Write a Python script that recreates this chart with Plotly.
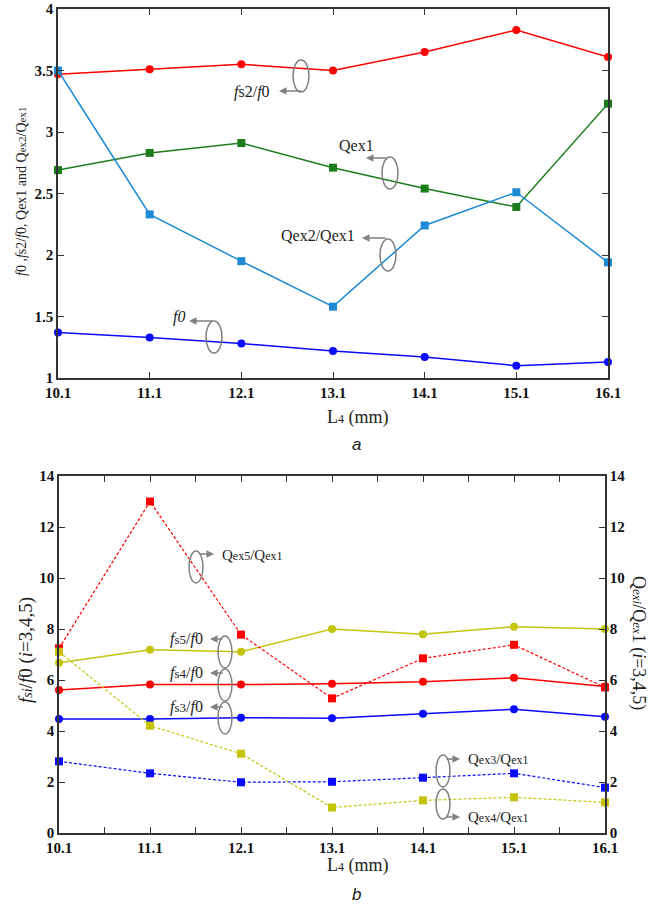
import plotly.graph_objects as go

# ---- data ----
L4 = [10.1, 11.1, 12.1, 13.1, 14.1, 15.1, 16.1]

# panel a
fs2_f0 = [3.47, 3.51, 3.55, 3.50, 3.65, 3.83, 3.61]
qex1 = [2.69, 2.83, 2.91, 2.71, 2.54, 2.39, 3.23]
qex2_qex1 = [3.50, 2.33, 1.95, 1.58, 2.24, 2.51, 1.94]
f0 = [1.37, 1.33, 1.28, 1.22, 1.17, 1.10, 1.13]

# panel b (left axis)
fs3_f0 = [4.47, 4.47, 4.52, 4.50, 4.68, 4.85, 4.56]
fs4_f0 = [5.61, 5.82, 5.82, 5.85, 5.93, 6.09, 5.75]
fs5_f0 = [6.68, 7.19, 7.11, 8.00, 7.79, 8.09, 8.00]
# panel b (right axis)
qex3_qex1 = [2.81, 2.34, 1.99, 2.01, 2.17, 2.34, 1.78]
qex4_qex1 = [7.11, 4.21, 3.11, 1.00, 1.28, 1.40, 1.20]
qex5_qex1 = [7.24, 13.0, 7.78, 5.28, 6.85, 7.38, 5.71]

x_ticks = L4
x_tick_text = ["10.1", "11.1", "12.1", "13.1", "14.1", "15.1", "16.1"]

W, H = 664, 906
RED = "#ff0000"
GREEN = "#1c7c1c"
LBLUE = "#1c8ad4"
BLUE = "#0a0aff"
YEL = "#c4c40c"
GRAY = "#808080"
AX = "#333333"
SERIF = "Liberation Serif, Times New Roman, serif"


def px(x):
    return x / W


def py(y):
    return 1 - y / H


def sm(t, size=10):
    return f"<span style='font-size:{size}px'>{t}</span>"


fig = go.Figure()

# panel a traces
fig.add_trace(go.Scatter(x=L4, y=fs2_f0, mode="lines+markers", line=dict(color=RED, width=1.5),
                         marker=dict(symbol="circle", size=8, color=RED), cliponaxis=False,
                         xaxis="x", yaxis="y"))
fig.add_trace(go.Scatter(x=L4, y=qex1, mode="lines+markers", line=dict(color=GREEN, width=1.5),
                         marker=dict(symbol="square", size=8, color=GREEN), cliponaxis=False,
                         xaxis="x", yaxis="y"))
fig.add_trace(go.Scatter(x=L4, y=qex2_qex1, mode="lines+markers", line=dict(color=LBLUE, width=1.5),
                         marker=dict(symbol="square", size=8, color=LBLUE), cliponaxis=False,
                         xaxis="x", yaxis="y"))
fig.add_trace(go.Scatter(x=L4, y=f0, mode="lines+markers", line=dict(color=BLUE, width=1.5),
                         marker=dict(symbol="circle", size=8, color=BLUE), cliponaxis=False,
                         xaxis="x", yaxis="y"))

# panel b traces, solid lines on left axis
for ys, c in [(fs5_f0, YEL), (fs4_f0, RED), (fs3_f0, BLUE)]:
    fig.add_trace(go.Scatter(x=L4, y=ys, mode="lines+markers", line=dict(color=c, width=1.5),
                             marker=dict(symbol="circle", size=8, color=c), cliponaxis=False,
                             xaxis="x2", yaxis="y2"))
# dashed lines on right axis
for ys, c in [(qex5_qex1, RED), (qex4_qex1, YEL), (qex3_qex1, BLUE)]:
    fig.add_trace(go.Scatter(x=L4, y=ys, mode="lines+markers", line=dict(color=c, width=1.2, dash="3px,2px"),
                             marker=dict(symbol="square", size=8, color=c), cliponaxis=False,
                             xaxis="x2", yaxis="y3"))

tickfont = dict(family=SERIF, size=15, color="#111111", weight="bold")
common_x = dict(range=[10.1, 16.1], tickvals=x_ticks, ticktext=x_tick_text, ticks="inside",
                ticklen=6, tickcolor=AX, showline=True, linecolor=AX, linewidth=1.5,
                showgrid=False, zeroline=False, tickfont=tickfont, automargin=False)
common_y = dict(ticks="inside", ticklen=6, tickcolor=AX, showline=True, linecolor=AX, linewidth=1.5,
                showgrid=False, zeroline=False, tickfont=tickfont, automargin=False)

fig.update_layout(
    width=W, height=H,
    margin=dict(l=0, r=0, t=0, b=0, autoexpand=False),
    paper_bgcolor="white", plot_bgcolor="white",
    showlegend=False,
    xaxis=dict(domain=[px(58), px(608)], anchor="y", mirror="ticks", **common_x),
    yaxis=dict(domain=[py(378), py(9)], anchor="x", range=[1, 4], mirror="ticks",
               tickvals=[1, 1.5, 2, 2.5, 3, 3.5, 4], ticktext=["1", "1.5", "2", "2.5", "3", "3.5", "4"],
               **common_y),
    xaxis2=dict(domain=[px(59), px(605)], anchor="y2", mirror="ticks",
                minor=dict(tickvals=[10.6, 11.6, 12.6, 13.6, 14.6, 15.6], ticks="inside", ticklen=6,
                           tickcolor=AX),
                **common_x),
    yaxis2=dict(domain=[py(833), py(476)], anchor="x2", range=[0, 14], dtick=2, **common_y),
    yaxis3=dict(overlaying="y2", anchor="x2", side="right", range=[0, 14], dtick=2, **common_y),
)

ann = []
shapes = []


def text(x, y, t, size=16, xanchor="center", **kw):
    ann.append(dict(x=px(x), y=py(y), xref="paper", yref="paper", text=t, showarrow=False,
                    xanchor=xanchor, yanchor="middle",
                    font=dict(family=SERIF, size=size, color="#222222"), **kw))


def arrow(x0, y0, x1, y1):
    # arrow from (x0, y0) pointing to (x1, y1), pixel coordinates
    ann.append(dict(x=px(x1), y=py(y1), xref="paper", yref="paper", text="", showarrow=True,
                    ax=x0 - x1, ay=y0 - y1, arrowhead=2, arrowsize=1, arrowwidth=1.5,
                    arrowcolor=GRAY))


def ellipse(cx, cy, rx=8, ry=16):
    shapes.append(dict(type="circle", xref="paper", yref="paper",
                       x0=px(cx - rx), x1=px(cx + rx), y0=py(cy + ry), y1=py(cy - ry),
                       line=dict(color=GRAY, width=1.5)))


# panel a callouts
ellipse(301, 76)
arrow(303, 91, 279, 91)
text(252, 92, "<i>f</i>s2/<i>f</i>0")

ellipse(390, 173)
arrow(388, 158, 366, 158)
text(356, 146, "Qex1")

ellipse(388, 255)
arrow(387, 238, 362, 238)
text(318, 235, "Qex2/Qex1")

ellipse(214, 337)
arrow(214, 321, 189, 321)
text(179, 317, "<i>f0</i>")

# panel b callouts
ellipse(196, 567, 7, 16)
arrow(198, 554, 214, 554)
text(220, 555, "Q" + sm("ex5", 12) + "/Q" + sm("ex1", 12), size=15, xanchor="left")

ellipse(225, 652, 7, 16)
arrow(224, 639, 210, 639)
text(186, 639, "<i>f</i>" + sm("s5", 13) + "/<i>f</i>0")

ellipse(225, 685, 7, 16)
arrow(224, 673, 210, 673)
text(186, 673, "<i>f</i>" + sm("s4", 13) + "/<i>f</i>0")

ellipse(225, 718, 7, 16)
arrow(224, 707, 210, 707)
text(186, 707, "<i>f</i>" + sm("s3", 13) + "/<i>f</i>0")

ellipse(443, 771, 7, 16)
arrow(445, 759, 460, 759)
text(466, 759, "Q" + sm("ex3", 12) + "/Q" + sm("ex1", 12), size=15, xanchor="left")

ellipse(443, 804, 7, 15)
arrow(445, 817, 460, 817)
text(466, 817, "Q" + sm("ex4", 12) + "/Q" + sm("ex1", 12), size=15, xanchor="left")

# axis titles
text(22, 192, "<i>f</i>0 ,<i>f</i>s2/<i>f</i>0, Qex1 and Q" + sm("ex2", 11) + "/Q" + sm("ex1", 11),
     size=14, textangle=-90)
text(358, 417, "L" + sm("4", 12) + " (mm)", size=18)
text(356, 445, "<i>a</i>", size=17)

text(26, 650, "<i>f</i>" + sm("<i>si</i>", 14) + "/<i>f</i>0 (<i>i</i>=3,4,5)", size=19, textangle=-90)
text(639, 643, "Q" + sm("<i>exi</i>", 13) + "/Q" + sm("<i>ex</i>", 13) + "1 (<i>i</i>=3,4,5)",
     size=18, textangle=90)
text(358, 865, "L" + sm("4", 12) + " (mm)", size=18)
text(356, 894, "<i>b</i>", size=17)

for a in ann:
    if a["text"] in ("<i>a</i>", "<i>b</i>"):
        a["font"]["family"] = "Liberation Sans, Arial, sans-serif"

fig.update_layout(annotations=ann, shapes=shapes)
fig.write_html("out.html")
